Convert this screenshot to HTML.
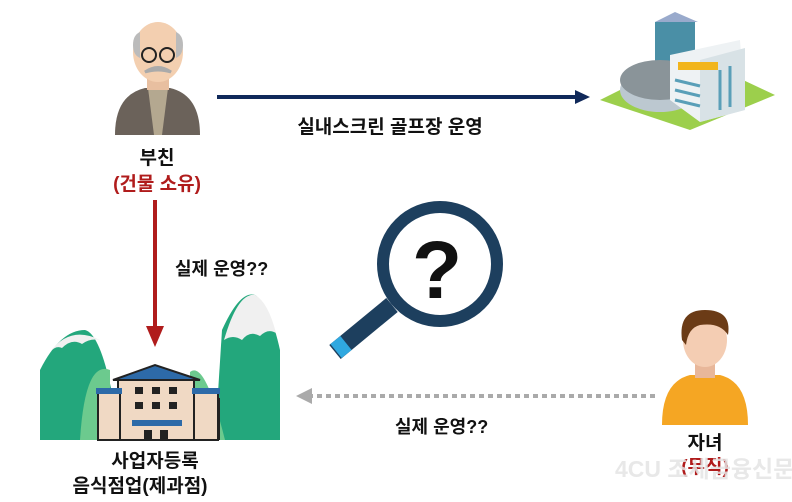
<!DOCTYPE html>
<html><head><meta charset="utf-8"><style>
html,body{margin:0;padding:0;background:#fff;}
svg{display:block}
text{font-family:"Liberation Sans","Noto Sans CJK KR",sans-serif;font-weight:bold;}
</style></head><body>
<svg width="792" height="502" viewBox="0 0 792 502" xmlns="http://www.w3.org/2000/svg">
<!-- old man -->
<path d="M115 135 Q115 95 145 88 L170 88 Q200 95 200 135 Z" fill="#6b625a"/>
<path d="M148 88 L168 88 L162 135 L154 135 Z" fill="#b4a890"/>
<rect x="147" y="74" width="22" height="16" fill="#e8bfa0"/>
<ellipse cx="158" cy="52" rx="25" ry="30" fill="#f3cfb0"/>
<path d="M133 45 Q133 35 140 32 L140 58 Q133 55 133 45Z M183 45 Q183 35 176 32 L176 58 Q183 55 183 45Z" fill="#bbb"/>
<circle cx="149" cy="55" r="7" fill="none" stroke="#222" stroke-width="2"/>
<circle cx="167" cy="55" r="7" fill="none" stroke="#222" stroke-width="2"/>
<path d="M145 72 Q158 63 171 72 Q158 68 145 72Z" fill="#aaa" stroke="#aaa" stroke-width="3"/>
<text x="157" y="164" font-size="19" text-anchor="middle" fill="#111">부친</text>
<text x="157" y="190" font-size="19" text-anchor="middle" fill="#b01c1c">(건물 소유)</text>
<!-- navy arrow -->
<line x1="217" y1="97" x2="578" y2="97" stroke="#10295a" stroke-width="4"/>
<path d="M575 90 L590 97 L575 104Z" fill="#10295a"/>
<text x="390" y="133" font-size="19" text-anchor="middle" fill="#111">실내스크린 골프장 운영</text>
<!-- building top right -->
<path d="M600 100 L690 55 L775 95 L690 130 Z" fill="#9ccf4c"/>
<rect x="655" y="22" width="40" height="55" fill="#4a8fa6"/>
<path d="M655 22 L675 12 L698 22 Z" fill="#9ac"/>
<ellipse cx="660" cy="90" rx="40" ry="22" fill="#bcc8d0"/>
<ellipse cx="660" cy="80" rx="40" ry="20" fill="#8a9499"/>
<path d="M670 55 L740 40 L745 110 L700 122 L670 100 Z" fill="#eef2f4"/>
<path d="M700 60 L745 48 L745 110 L700 122Z" fill="#d8e2e6"/>
<rect x="678" y="62" width="40" height="8" fill="#f2b51c"/>
<g stroke="#5a9fb8" stroke-width="3"><line x1="675" y1="80" x2="700" y2="86"/><line x1="675" y1="90" x2="700" y2="96"/><line x1="675" y1="100" x2="700" y2="106"/><line x1="720" y1="70" x2="720" y2="110"/><line x1="730" y1="66" x2="730" y2="107"/></g>
<!-- red arrow -->
<line x1="155" y1="200" x2="155" y2="330" stroke="#b01c1c" stroke-width="4"/>
<path d="M146 326 L164 326 L155 347Z" fill="#b01c1c"/>
<text x="175" y="275" font-size="18" fill="#111">실제 운영??</text>
<!-- magnifier -->
<circle cx="440" cy="264" r="57" fill="#fff" stroke="#1d3f5e" stroke-width="12"/>
<line x1="392" y1="305" x2="335" y2="352" stroke="#1d3f5e" stroke-width="18"/>
<line x1="346" y1="343" x2="336" y2="351" stroke="#2fa8e0" stroke-width="18"/>
<text x="437" y="298" font-size="82" text-anchor="middle" fill="#111" font-family="Liberation Sans">?</text>
<!-- mountains -->
<path d="M40 440 L40 370 Q60 330 85 330 Q105 335 120 440Z" fill="#23a77c"/>
<path d="M50 352 Q70 325 100 340 Q90 338 82 344 Q72 338 62 348 Q56 345 50 352Z" fill="#f0f0f0"/>
<path d="M215 440 L222 330 Q240 290 255 295 Q270 305 280 350 L280 440Z" fill="#23a77c"/>
<path d="M224 340 Q238 292 255 295 Q268 302 276 333 Q268 328 260 336 Q250 330 242 340 Q233 334 224 340Z" fill="#f0f0f0"/>
<path d="M80 440 Q85 360 110 370 L110 440Z" fill="#6cca8e"/>
<path d="M190 440 L190 372 Q205 360 225 440Z" fill="#6cca8e"/>
<!-- school building -->
<rect x="100" y="398" width="120" height="42" fill="#222"/>
<path d="M113 380 L155 365 L200 380 Z" fill="#2d6aa8" stroke="#222" stroke-width="2"/>
<rect x="118" y="380" width="76" height="60" fill="#f0d9c4" stroke="#222" stroke-width="2"/>
<rect x="98" y="392" width="22" height="48" fill="#f0d9c4" stroke="#222" stroke-width="2"/>
<rect x="194" y="392" width="24" height="48" fill="#f0d9c4" stroke="#222" stroke-width="2"/>
<rect x="96" y="388" width="26" height="6" fill="#2d6aa8"/><rect x="192" y="388" width="28" height="6" fill="#2d6aa8"/>
<rect x="132" y="420" width="50" height="6" fill="#2d6aa8"/>
<g fill="#222"><rect x="135" y="387" width="8" height="7"/><rect x="152" y="387" width="8" height="7"/><rect x="169" y="387" width="8" height="7"/><rect x="135" y="402" width="8" height="7"/><rect x="152" y="402" width="8" height="7"/><rect x="169" y="402" width="8" height="7"/><rect x="144" y="430" width="8" height="10"/><rect x="160" y="430" width="8" height="10"/></g>
<text x="155" y="467" font-size="19" text-anchor="middle" fill="#111">사업자등록</text>
<text x="140" y="492" font-size="19" text-anchor="middle" fill="#111">음식점업(제과점)</text>
<!-- dotted arrow -->
<line x1="655" y1="396" x2="310" y2="396" stroke="#aaa" stroke-width="4" stroke-dasharray="5,4"/>
<path d="M312 388 L296 396 L312 404Z" fill="#aaa"/>
<text x="395" y="433" font-size="18" fill="#111">실제 운영??</text>
<!-- child -->
<path d="M662 425 Q662 382 690 375 L720 375 Q748 382 748 425 Z" fill="#f5a623"/>
<rect x="695" y="360" width="20" height="18" fill="#e8b79a"/>
<ellipse cx="705" cy="340" rx="22" ry="27" fill="#f4cdb3"/>
<path d="M682 340 Q678 310 705 310 Q732 310 728 335 Q720 322 700 325 Q688 328 686 345Z" fill="#6b3b16"/>
<text x="705" y="449" font-size="19" text-anchor="middle" fill="#111">자녀</text>
<text x="705" y="473" font-size="19" text-anchor="middle" fill="#b01c1c">(무직)</text>
<text x="615" y="477" font-size="23" fill="#e4e4e4" fill-opacity="0.85" font-family="Liberation Sans">4CU 조세금융신문</text>
</svg>
</body></html>
